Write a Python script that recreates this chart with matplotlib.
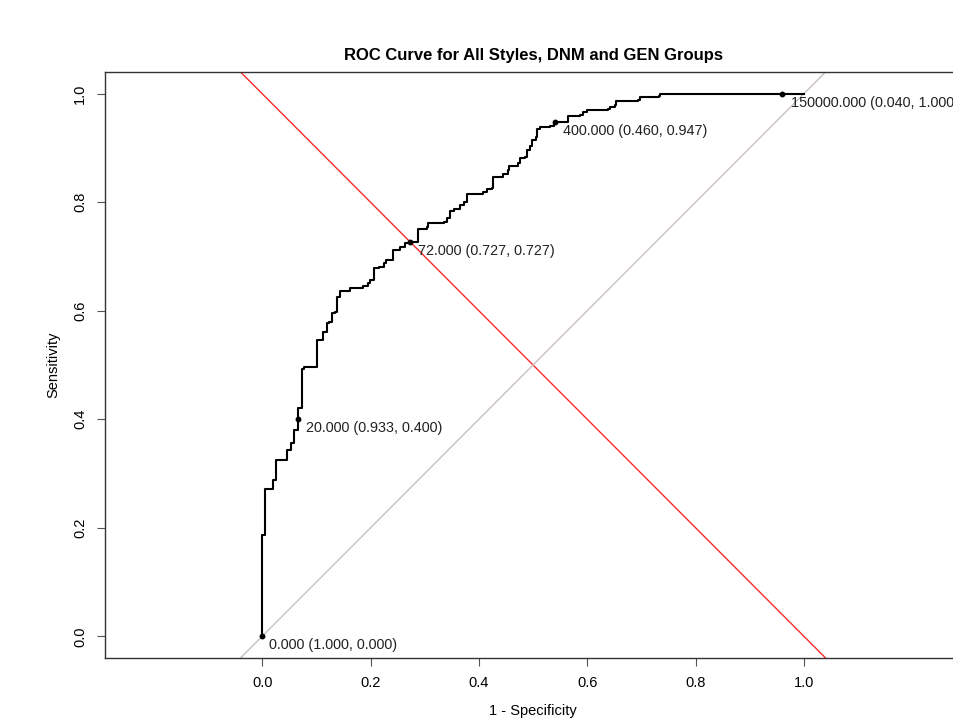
import matplotlib
matplotlib.use("Agg")
import matplotlib.pyplot as plt

plt.rcParams["font.family"] = ["Liberation Sans", "DejaVu Sans"]

# ROC staircase (1 - specificity, sensitivity)
roc_fpr = [0, 0, 0.006, 0.020, 0.026, 0.046, 0.053, 0.058, 0.067, 0.067,
           0.073, 0.078, 0.101, 0.113, 0.119, 0.124, 0.129, 0.135, 0.138, 0.144,
           0.162, 0.187, 0.196, 0.199, 0.207, 0.215, 0.224, 0.229, 0.241, 0.255,
           0.264, 0.273, 0.287, 0.304, 0.307, 0.335, 0.341, 0.347, 0.354, 0.365,
           0.372, 0.379, 0.408, 0.415, 0.424, 0.426, 0.427, 0.445, 0.453, 0.455,
           0.473, 0.476, 0.485, 0.488, 0.495, 0.498, 0.506, 0.508, 0.513, 0.531,
           0.538, 0.540, 0.563, 0.565, 0.587, 0.593, 0.599, 0.639, 0.642, 0.651,
           0.654, 0.694, 0.697, 0.733, 0.734, 1.0]
roc_tpr = [0, 0.186, 0.272, 0.288, 0.325, 0.343, 0.357, 0.380, 0.400, 0.420,
           0.492, 0.497, 0.546, 0.561, 0.577, 0.580, 0.595, 0.598, 0.626, 0.637,
           0.641, 0.646, 0.651, 0.657, 0.678, 0.681, 0.688, 0.694, 0.712, 0.717,
           0.725, 0.727, 0.750, 0.755, 0.761, 0.764, 0.771, 0.783, 0.788, 0.795,
           0.800, 0.815, 0.818, 0.824, 0.826, 0.835, 0.847, 0.852, 0.860, 0.866,
           0.872, 0.881, 0.883, 0.897, 0.903, 0.915, 0.921, 0.934, 0.939, 0.941,
           0.945, 0.947, 0.948, 0.959, 0.961, 0.966, 0.969, 0.971, 0.976, 0.980,
           0.986, 0.988, 0.994, 0.996, 1.0, 1.0]

# printed thresholds
thr_values = ["0.000", "20.000", "72.000", "400.000", "150000.000"]
thr_spec = [1.000, 0.933, 0.727, 0.460, 0.040]
thr_sens = [0.000, 0.400, 0.727, 0.947, 1.000]

ticks = [0.0, 0.2, 0.4, 0.6, 0.8, 1.0]

fig = plt.figure(figsize=(9.54, 7.19), dpi=100)
ax = fig.add_axes([0.1101, 0.0848, 0.8973, 0.8151])

ax.axline((0, 1), slope=-1, color="#ff2a2a", lw=1.0, zorder=1)
ax.axline((0, 0), slope=1, color="#c9c0c0", lw=1.0, zorder=1)

ax.plot(roc_fpr, roc_tpr, drawstyle="steps-post", color="black", lw=1.5, zorder=3)

thr_fpr = [1 - s for s in thr_spec]
ax.plot(thr_fpr, thr_sens, "o", color="black", ms=3.2, zorder=4)
for v, sp, se, fx in zip(thr_values, thr_spec, thr_sens, thr_fpr):
    label = f"{v} ({sp:.3f}, {se:.3f})"
    ax.annotate(label, (fx, se), xytext=(0.26 * len(label), -6.5),
                textcoords="offset points", ha="left", va="center",
                fontsize=10.4, color="#222222", zorder=5)

ax.set_xlim(-0.29, 1.29)
ax.set_ylim(-0.04, 1.04)
ax.set_xticks(ticks)
ax.set_yticks(ticks)
ax.set_xticklabels([f"{t:.1f}" for t in ticks])
ax.set_yticklabels([f"{t:.1f}" for t in ticks])
ax.tick_params(direction="out", length=6, width=0.8, color="#555555",
               labelsize=10.5, pad=7)
for lab in ax.get_yticklabels():
    lab.set_rotation(90)
    lab.set_va("center")

for s in ax.spines.values():
    s.set_color("#333333")
    s.set_linewidth(1.0)

ax.set_xlabel("1 - Specificity", fontsize=10.5, labelpad=10)
ax.set_ylabel("Sensitivity", fontsize=10.5, labelpad=9)
ax.set_title("ROC Curve for All Styles, DNM and GEN Groups",
             fontsize=12, fontweight="bold", pad=8.5)

fig.savefig("out.png", dpi=100, facecolor="white")
